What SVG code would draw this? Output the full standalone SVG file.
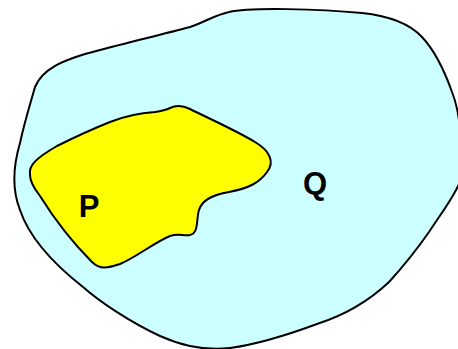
<svg xmlns="http://www.w3.org/2000/svg" width="458" height="349" viewBox="0 0 458 349">
<style>
.region{stroke:#000;stroke-width:2;stroke-linejoin:round}
.lbl{font-family:"Liberation Sans",Arial,sans-serif;font-weight:bold;font-size:31px;fill:#000;text-anchor:middle}
</style>
<rect width="458" height="349" fill="#fff"/>
<g id="Q">
<path class="region" fill="#CCFFFF" d="M 229 12 C 250 7, 320 9, 362 13 C 390 16, 410 24, 422 37 C 436 52, 446 75, 452 92 C 460 112, 464 150, 460 182 C 452 200, 440 215, 429 232 C 415 252, 400 270, 389 282 C 370 300, 345 315, 317 324 C 290 334, 260 344, 230 348 C 205 351, 180 345, 160 336 C 130 322, 100 302, 83 287 C 55 265, 30 240, 20 210 C 10 185, 15 160, 20 143 C 25 120, 30 105, 35 87 C 42 70, 60 60, 100 50 C 130 42, 160 35, 190 27 C 205 22, 215 15, 229 12 Z"/>
<text class="lbl" x="315" y="194">Q</text>
</g>
<g id="P">
<path class="region" fill="#FFFF00" d="M 30 175 C 28 165, 38 157, 57 146 C 75 137, 90 130, 110 122 C 125 116, 140 113, 155 112 C 162 111, 166 110, 170 108 C 176 105, 182 105, 190 109 C 210 119, 235 130, 255 142 C 270 151, 275 162, 267 172 C 260 182, 250 188, 229 192 C 212 195, 202 200, 199 210 C 196 220, 199 233, 190 235 C 183 236, 178 233, 170 236 C 155 242, 135 258, 120 264 C 108 268, 100 270, 92 262 C 75 245, 55 220, 40 196 C 33 187, 30 180, 30 175 Z"/>
<text class="lbl" x="89" y="217">P</text>
</g>
<g id="connectors"/>
</svg>
